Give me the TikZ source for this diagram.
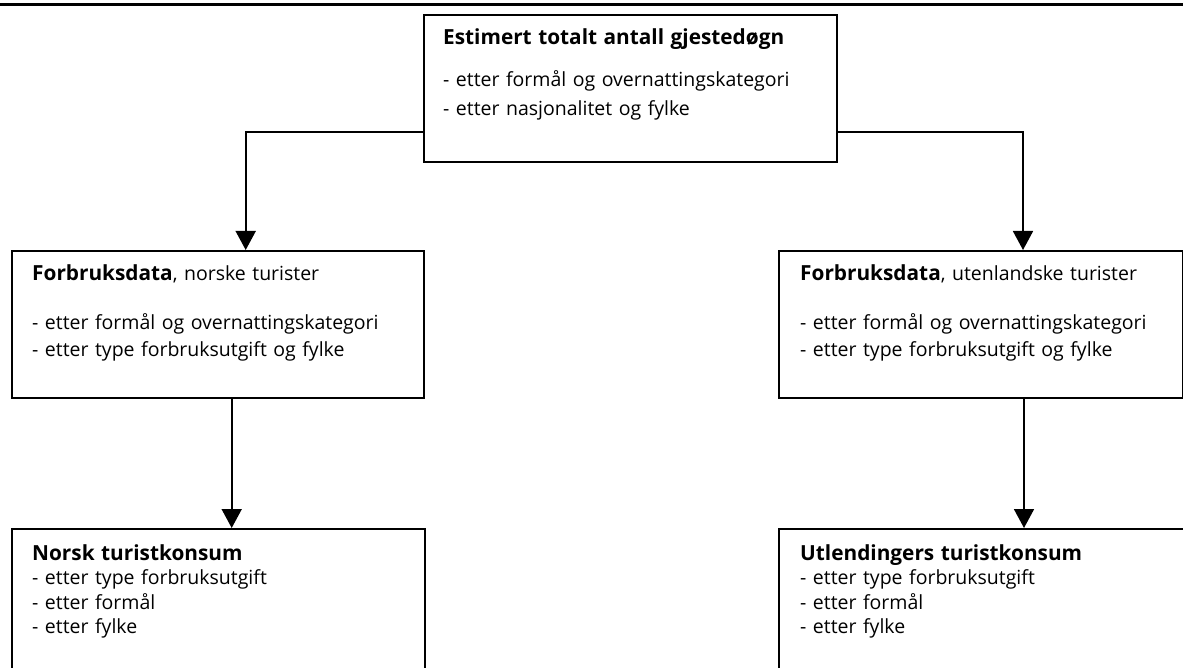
\documentclass[tikz,border=0pt]{standalone}
\usepackage{fontspec}
\setmainfont{Open Sans}
\newfontfamily\widebold{Open Sans}[Scale=1.067]
\newcommand\hd[1]{{\widebold\bfseries #1}}
\usetikzlibrary{arrows.meta,calc}
\begin{document}
\begin{tikzpicture}[x=1pt,y=-1pt,
  box/.style={draw, line width=1.8pt, rectangle, inner sep=0pt, anchor=north west},
  txt/.style={anchor=base west, inner sep=0pt, text width=390pt, align=left},
  arr/.style={line width=1.8pt, -{Triangle[width=20pt,length=19pt]}},
  ftop/.style={font=\fontsize{19.5}{29}\selectfont},
  fmid/.style={font=\fontsize{19.5}{27}\selectfont},
  fbot/.style={font=\fontsize{19.5}{24.5}\selectfont}
]
\useasboundingbox (0,0) rectangle (1183,668);
\clip (0,0) rectangle (1183,668);
\draw[line width=3pt] (0,5) -- (1183,5);
% boxes
\node[box, minimum width=413pt, minimum height=147pt] (top) at (423,14) {};
\node[box, minimum width=412pt, minimum height=147pt] (ml) at (11,250) {};
\node[box, minimum width=404pt, minimum height=147pt] (mr) at (778,250) {};
\node[box, minimum width=413pt, minimum height=200pt] (bl) at (11,528) {};
\node[box, minimum width=450pt, minimum height=200pt] (br) at (778,528) {};
% texts
\node[txt, ftop] (toptxt) at (443,45) {\hd{Estimert totalt antall gjestedøgn}\\[13pt]
- etter formål og overnattingskategori\\
- etter nasjonalitet og fylke};
\node[txt, fmid] (mltxt) at (32,281) {\hd{Forbruksdata}, norske turister\\[22pt]
- etter formål og overnattingskategori\\
- etter type forbruksutgift og fylke};
\node[txt, fmid] (mrtxt) at (800,281) {\hd{Forbruksdata}, utenlandske turister\\[22pt]
- etter formål og overnattingskategori\\
- etter type forbruksutgift og fylke};
\node[txt, fbot] (bltxt) at (32,560) {\hd{Norsk turistkonsum}\\
- etter type forbruksutgift\\
- etter formål\\
- etter fylke};
\node[txt, fbot] (brtxt) at (800,560) {\hd{Utlendingers turistkonsum}\\
- etter type forbruksutgift\\
- etter formål\\
- etter fylke};
% connectors
\draw[arr] ($(top.south west)+(0,-31)$) -| ($(ml.north west)+(234.7,0)$);
\draw[arr] ($(top.south east)+(0,-31)$) -| ($(mr.north west)+(245,0)$);
\draw[arr] ($(ml.south west)+(220.7,0)$) -- ($(bl.north west)+(220.7,0)$);
\draw[arr] ($(mr.south west)+(246,0)$) -- ($(br.north west)+(246,0)$);
\end{tikzpicture}
\end{document}
